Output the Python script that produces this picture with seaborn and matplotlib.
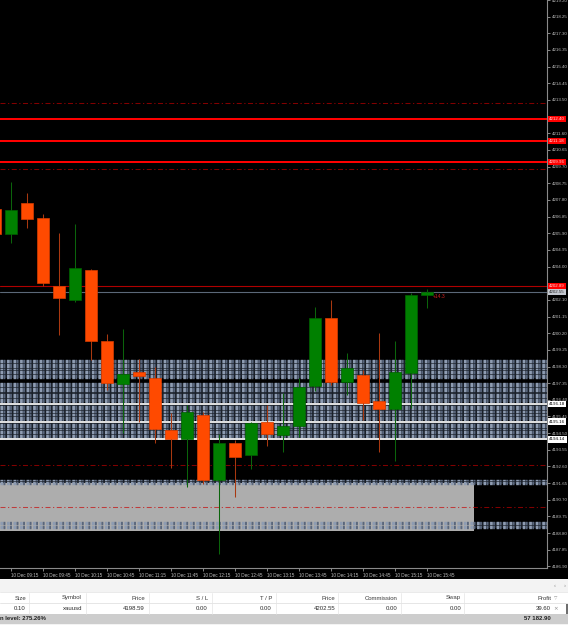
import numpy as np
import matplotlib
matplotlib.use("Agg")
import matplotlib.pyplot as plt
import matplotlib.transforms as mtransforms
from matplotlib.patches import Rectangle
import seaborn as sns

# ---------------- data ----------------
times = ["09:00", "09:15", "09:30", "09:45", "10:00", "10:15", "10:30", "10:45",
         "11:00", "11:15", "11:30", "11:45", "12:00", "12:15", "12:30", "12:45",
         "13:00", "13:15", "13:30", "13:45", "14:00", "14:15", "14:30", "14:45",
         "15:00", "15:15", "15:30", "15:45"]
opens = [4207.28, 4205.85, 4207.62, 4206.77, 4202.89, 4202.09, 4203.80, 4199.76,
         4197.30, 4197.99, 4197.65, 4194.68, 4194.17, 4195.54, 4191.83, 4193.94,
         4193.26, 4195.14, 4194.40, 4194.91, 4197.19, 4201.07, 4197.42, 4197.82,
         4196.33, 4195.88, 4197.93, 4202.38]
highs = [4207.79, 4208.82, 4208.19, 4207.00, 4205.91, 4206.42, 4203.85, 4200.15,
         4200.44, 4198.73, 4198.27, 4195.65, 4196.11, 4195.71, 4194.45, 4194.11,
         4195.14, 4196.11, 4196.79, 4197.65, 4201.69, 4202.09, 4199.07, 4198.10,
         4200.21, 4199.76, 4202.49, 4202.72]
lows = [4205.51, 4205.34, 4206.20, 4202.89, 4200.10, 4201.98, 4198.67, 4196.96,
        4194.51, 4195.14, 4193.94, 4192.51, 4191.43, 4191.60, 4187.61, 4190.86,
        4192.46, 4193.77, 4193.43, 4194.28, 4196.90, 4197.25, 4196.68, 4195.25,
        4193.43, 4192.91, 4195.94, 4201.64]
closes = [4205.85, 4207.22, 4206.71, 4203.06, 4202.21, 4203.92, 4199.76, 4197.36,
          4197.87, 4197.76, 4194.74, 4194.17, 4195.71, 4191.83, 4193.94, 4193.14,
          4195.08, 4194.45, 4194.91, 4197.13, 4201.07, 4197.42, 4198.22, 4196.22,
          4195.88, 4197.99, 4202.38, 4202.55]

solid_red_levels = [4212.40, 4211.18, 4209.96]
dashdot_levels = [4213.32, 4209.56, 4192.71, 4190.29]
white_levels = [4196.18, 4195.16, 4194.14]
ask_level = 4202.89
bid_level = 4202.55
timer_text = "+14.3"

# striped order-band zones (price low, price high)
band_zones = [(4197.65, 4198.67), (4196.27, 4197.36), (4195.25, 4196.11), (4194.22, 4195.08),
              (4191.60, 4191.80), (4189.09, 4189.44)]
gray_zone = (4188.92, 4191.63)

price_min, price_max = 4186.81, 4219.20
tick_start, tick_step = 4186.90, 0.95

table_headers = ["Size", "Symbol", "Price", "S / L", "T / P", "Price", "Commission", "Swap", "Profit"]
table_row = ["0.10", "xauusd", "4198.59", "0.00", "0.00", "4202.55", "0.00", "0.00", "39.60"]
margin_text = "n level: 275.26%"
total_profit = "57 182.90"

# ---------------- style ----------------
sns.set_theme(style="dark")
plt.rcParams["font.family"] = ["Liberation Sans", "DejaVu Sans"]
plt.rcParams["lines.scale_dashes"] = False

W, H = 568, 625
fig = plt.figure(figsize=(W / 100, H / 100), dpi=100, facecolor="black")
ax = fig.add_axes([0, 1 - 568 / H, 547 / W, 568 / H])
ax.set_facecolor("black")

n = len(times)
xs = np.arange(n)
x_left, x_right = 0.294, 34.48
ax.set_xlim(x_left, x_right)
ax.set_ylim(price_min, price_max)

# striped bands (texture of overlapping dashed order lines)
for lo, hi in band_zones:
    rows = max(3, int(round((hi - lo) * 17.54)))
    ax.axhspan(lo, hi, color="#1a2029", lw=0, zorder=1.6)
    for j, yy in enumerate(np.linspace(lo, hi, rows)):
        if rows > 6 and j % 5 == 4:
            continue
        ax.plot([x_left, x_right], [yy, yy], color="#8e9cb2", lw=1.0,
                linestyle=(0, (1.9, 2.8)), zorder=1.7)
        ax.plot([x_left, x_right], [yy, yy], color="#59667c", lw=1.0,
                linestyle=(2.5, (1.3, 3.4)), zorder=1.7)

# gray zone box
ax.add_patch(Rectangle((x_left, gray_zone[0]), 29.92 - x_left, gray_zone[1] - gray_zone[0],
                       fc="#adadad", ec="none", zorder=1.65))

# level lines
for lv in dashdot_levels:
    ax.axhline(lv, color="#c80000", alpha=0.65, lw=0.75,
               linestyle=(0, (3.6, 1.8, 0.9, 1.8)), zorder=3)
for lv in solid_red_levels:
    ax.axhline(lv, color="#ff0000", lw=1.45, zorder=3)
for lv in white_levels:
    ax.axhline(lv, color="#e4e4e4", lw=1.4, zorder=3)
ax.axhline(ask_level, color="#b00000", lw=0.8, zorder=3)
ax.axhline(bid_level, color="#5b6878", lw=0.8, zorder=3)

# candles
up_c, dn_c = "#008000", "#ff4a00"
for x, o, h, l, c in zip(xs, opens, highs, lows, closes):
    bull = c >= o
    col = up_c if bull else dn_c
    wick = "#0b640b" if bull else "#a83810"
    ax.vlines(x, l, h, color=wick, lw=0.75, zorder=4)
    lo_b, hi_b = min(o, c), max(o, c)
    ax.bar(x, max(hi_b - lo_b, 0.08), bottom=lo_b, width=0.76, color=col,
           edgecolor="#006000" if bull else "#d83c00", lw=0.5, zorder=5)

ax.text(27.36, 4202.32, timer_text, color="#d02020", fontsize=3.6,
        ha="left", va="center", zorder=6)

# axes decorations
for s in ["top", "left"]:
    ax.spines[s].set_visible(False)
for s in ["right", "bottom"]:
    ax.spines[s].set_color("#8a8a8a")
    ax.spines[s].set_linewidth(0.8)
ax.yaxis.tick_right()
label_levels = solid_red_levels + [ask_level, bid_level] + white_levels
yt = np.arange(tick_start, price_max + 0.01, tick_step)
ax.set_yticks(yt)
ax.set_yticklabels(["" if min(abs(v - q) for q in label_levels) < 0.2 else f"{v:.2f}"
                    for v in yt])
ax.tick_params(axis="y", colors="#bdbdbd", labelsize=3.2, length=2, width=0.5, pad=1.5,
               direction="out", right=True, left=False)
xt = xs[1::2]
ax.set_xticks(xt)
ax.set_xticklabels(["10 Dec " + times[i] for i in xt], ha="left")
ax.tick_params(axis="x", colors="#bdbdbd", labelsize=3.3, length=2, width=0.5, pad=1.5,
               direction="out", bottom=True)
ax.grid(False)

# level labels on price scale
tr = mtransforms.blended_transform_factory(ax.transAxes, ax.transData)
def level_label(v, fc, tc):
    ax.text(1.004, v, f"{v:.2f}", transform=tr, fontsize=3.2, color=tc, ha="left",
            va="center", clip_on=False, zorder=7,
            bbox=dict(boxstyle="square,pad=0.25", fc=fc, ec="none"))
for lv in solid_red_levels:
    level_label(lv, "#ff0000", "#ffd8d8")
level_label(ask_level, "#ff0000", "#ffd8d8")
level_label(bid_level, "#c4c8d0", "#2a2a2a")
for lv in white_levels:
    level_label(lv, "#ffffff", "#000000")

# ---------------- table panel ----------------
tax = fig.add_axes([0, 0, 1, 46 / H])
tax.set_xlim(0, W)
tax.set_ylim(625, 579)
tax.axis("off")
tax.add_patch(Rectangle((0, 579), W, 13, fc="#f3f3f3", ec="none"))
tax.add_patch(Rectangle((0, 592), W, 22, fc="#ffffff", ec="none"))
tax.add_patch(Rectangle((0, 614), W, 9.5, fc="#cdcdcd", ec="none"))
tax.add_patch(Rectangle((0, 623.5), W, 1.5, fc="#f3f3f3", ec="none"))
tax.plot([0, W], [603.3, 603.3], color="#e2e2e2", lw=0.6)
tax.plot([0, W], [592.3, 592.3], color="#e6e6e6", lw=0.6)
col_right = [26, 82, 145, 208, 272, 335, 398, 461, 551]
col_sep = [29, 86, 149, 212, 276, 338, 401, 464]
for xsep in col_sep:
    tax.plot([xsep, xsep], [592.5, 614], color="#e4e4e4", lw=0.5)
for xr, htxt, vtxt in zip(col_right, table_headers, table_row):
    tax.text(xr, 598, htxt, fontsize=4.3, color="#3a3a3a", ha="right", va="center")
    tax.text(xr, 609, vtxt, fontsize=4.3, color="#2a2a2a", ha="right", va="center")
tax.text(553.5, 598, "▽", fontsize=3.2, color="#8a8a8a", ha="left", va="center",
         family=["DejaVu Sans"])
tax.text(553.5, 609, "×", fontsize=4.0, color="#8a8a8a", ha="left", va="center",
         family=["DejaVu Sans"])
tax.add_patch(Rectangle((565.5, 604), 2, 10, fc="#6e6e6e", ec="none"))
tax.text(555, 585.5, "‹", fontsize=4.2, color="#8a8a8a", ha="center", va="center")
tax.text(565, 585.5, "›", fontsize=4.2, color="#8a8a8a", ha="center", va="center")
tax.text(0.5, 619, margin_text, fontsize=4.3, color="#202020", ha="left", va="center",
         fontweight="bold")
tax.text(551, 619, total_profit, fontsize=4.3, color="#202020", ha="right", va="center",
         fontweight="bold")

fig.savefig("out.png", dpi=100, facecolor="black")
